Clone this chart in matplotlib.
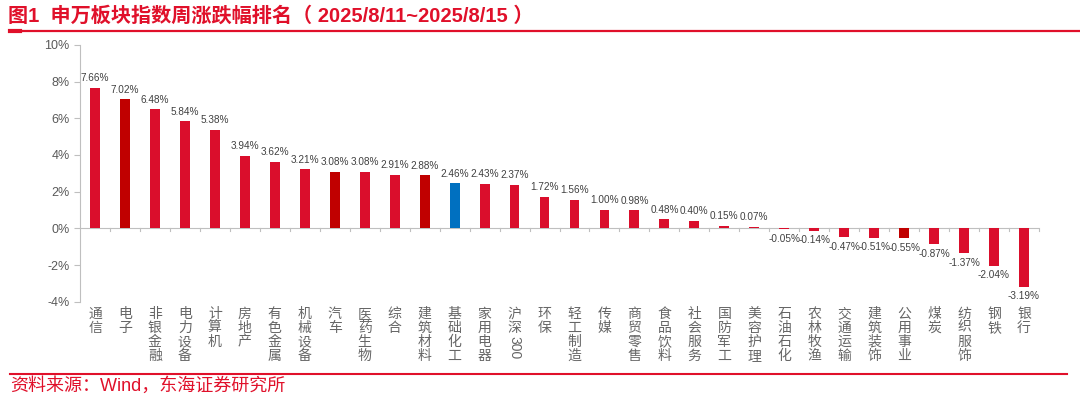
import matplotlib.pyplot as plt
from matplotlib.transforms import blended_transform_factory
from matplotlib.lines import Line2D
from matplotlib.ticker import FuncFormatter

# datos
sectors = ["通信", "电子", "非银金融", "电力设备", "计算机", "房地产", "有色金属", "机械设备",
           "汽车", "医药生物", "综合", "建筑材料", "基础化工", "家用电器", "沪深300", "环保",
           "轻工制造", "传媒", "商贸零售", "食品饮料", "社会服务", "国防军工", "美容护理",
           "石油石化", "农林牧渔", "交通运输", "建筑装饰", "公用事业", "煤炭", "纺织服饰",
           "钢铁", "银行"]
changes = [7.66, 7.02, 6.48, 5.84, 5.38, 3.94, 3.62, 3.21, 3.08, 3.08, 2.91, 2.88, 2.46,
           2.43, 2.37, 1.72, 1.56, 1.00, 0.98, 0.48, 0.40, 0.15, 0.07, -0.05, -0.14, -0.47,
           -0.51, -0.55, -0.87, -1.37, -2.04, -3.19]
dark_sectors = ["电子", "汽车", "建筑材料", "公用事业"]
blue_sectors = ["基础化工"]

RED = "#DA0E2C"
DARK = "#C00000"
BLUE = "#0070C0"
GRID = "#BFBFBF"
FONT = ["Liberation Sans", "Noto Sans CJK SC", "DejaVu Sans"]
plt.rcParams["font.family"] = FONT

colors = []
for s in sectors:
    if s in blue_sectors:
        colors.append(BLUE)
    elif s in dark_sectors:
        colors.append(DARK)
    else:
        colors.append(RED)

fig = plt.figure(figsize=(10.8, 3.97), dpi=100)
ax = fig.add_axes([80 / 1080, 1 - 301.7 / 397, (1039 - 80) / 1080, (301.7 - 44.8) / 397])

x = list(range(len(sectors)))
ax.bar(x, changes, width=0.33, color=colors, zorder=3)
ax.set_xlim(-0.5, len(sectors) - 0.5)
ax.set_ylim(-4, 10)
ax.set_yticks(range(-4, 11, 2))
ax.yaxis.set_major_formatter(FuncFormatter(lambda v, p: f"{v:.0f}%"))
ax.tick_params(axis="y", colors=GRID, labelcolor="#595959", labelsize=9, length=4, width=0.8)
ax.tick_params(axis="x", bottom=False, labelbottom=False)
for side in ["top", "right", "bottom"]:
    ax.spines[side].set_visible(False)
ax.spines["left"].set_color(GRID)
ax.spines["left"].set_linewidth(0.8)

# eje cero con marcas entre categorias
ax.axhline(0, color=GRID, lw=0.8, zorder=2)
for b in range(1, len(sectors) + 1):
    ax.plot([b - 0.5, b - 0.5], [0, -0.12], color=GRID, lw=0.8, zorder=2, clip_on=False)

# etiquetas de valores
for i, v in enumerate(changes):
    if v >= 0:
        ax.text(i, v + 0.25, f"{v:.2f}%", ha="center", va="bottom", fontsize=7.2, color="#404040")
    else:
        ax.text(i, v - 0.25, f"{v:.2f}%", ha="center", va="top", fontsize=7.2, color="#404040")

# etiquetas verticales del eje x
trans = blended_transform_factory(ax.transData, ax.transAxes)
for i, s in enumerate(sectors):
    if s == "沪深300":
        ax.text(i, -0.02, "沪\n深", transform=trans, ha="center", va="top",
                fontsize=10, color="#666666", linespacing=1.0,
                family=["Noto Sans CJK SC"])
        ax.text(i, -0.135, "300", transform=trans, ha="center", va="top", rotation=270,
                fontsize=10, color="#666666")
    else:
        ax.text(i, -0.02, "\n".join(s), transform=trans, ha="center", va="top",
                fontsize=10, color="#666666", linespacing=1.0,
                family=["Noto Sans CJK SC"])

# titulo, lineas y fuente
fig.text(8 / 1080, 1 - 16 / 397, "图1  申万板块指数周涨跌幅排名（ 2025/8/11~2025/8/15 ）",
         fontsize=14.5, fontweight="bold", color="#E0102A", va="center", ha="left")
fig.add_artist(Line2D([10 / 1080, 1.0], [1 - 30.5 / 397] * 2, color="#E0102A", lw=1.6))
fig.add_artist(Line2D([10 / 1080, 20 / 1080], [1 - 30.5 / 397] * 2, color="#E0102A", lw=3))
fig.add_artist(Line2D([10 / 1080, 1067 / 1080], [1 - 374 / 397] * 2, color="#E0102A", lw=1.5))
fig.text(10 / 1080, 1 - 386 / 397, "资料来源：Wind，东海证券研究所",
         fontsize=13, color="#E0102A", va="center", ha="left")

fig.savefig("out.png", dpi=100)
